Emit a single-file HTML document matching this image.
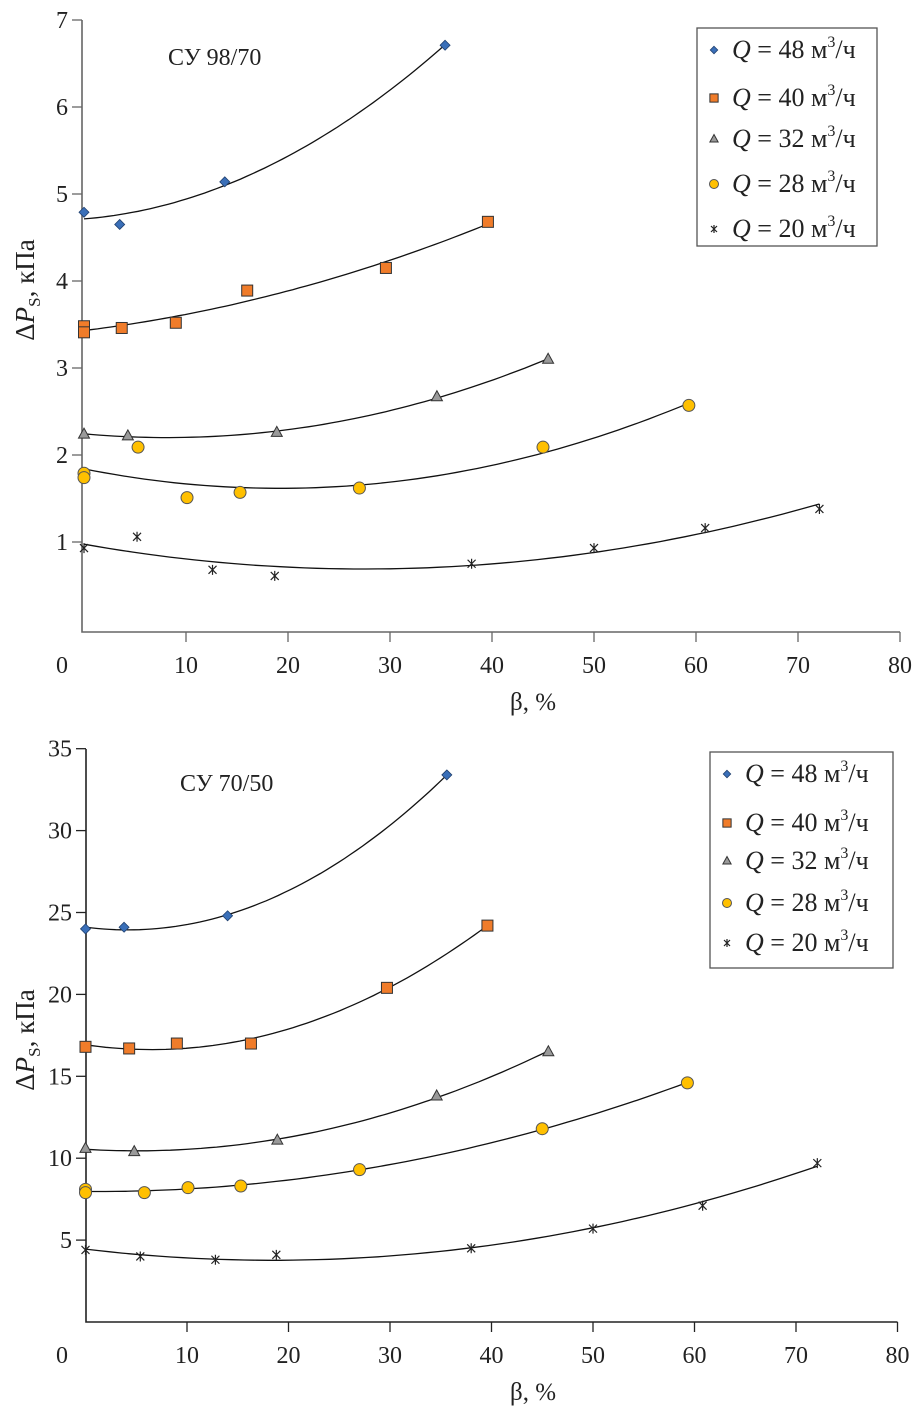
<!DOCTYPE html>
<html><head><meta charset="utf-8"><style>
body{margin:0;background:#fff;}
svg{display:block;font-family:"Liberation Serif",serif;}
</style></head><body>
<svg id="svg" width="918" height="1407"></svg>
<script>
const seriesLabels=["48","40","32","28","20"];
const xTicks=[0,10,20,30,40,50,60,70,80];
const topYTicks=[1,2,3,4,5,6,7];
const botYTicks=[5,10,15,20,25,30,35];
// Top chart (СУ 98/70)
const topQ48x=[0,3.5,13.8,35.4], topQ48y=[4.79,4.65,5.14,6.71];
const topQ40x=[0,0,3.7,9,16,29.6,39.6], topQ40y=[3.48,3.41,3.46,3.52,3.89,4.15,4.68];
const topQ32x=[0,4.3,18.9,34.6,45.5], topQ32y=[2.24,2.22,2.26,2.67,3.1];
const topQ28x=[0,0,5.3,10.1,15.3,27,45,59.3], topQ28y=[1.79,1.74,2.09,1.51,1.57,1.62,2.09,2.57];
const topQ20x=[0,5.2,12.6,18.7,38,50,60.9,72.1], topQ20y=[0.93,1.06,0.68,0.61,0.75,0.93,1.16,1.38];
// Bottom chart (СУ 70/50)
const botQ48x=[0,3.8,14,35.6], botQ48y=[24.0,24.1,24.8,33.4];
const botQ40x=[0,4.3,9,16.3,29.7,39.6], botQ40y=[16.8,16.7,17.0,17.0,20.4,24.2];
const botQ32x=[0,4.8,18.9,34.6,45.6], botQ32y=[10.6,10.4,11.1,13.8,16.5];
const botQ28x=[0,0,5.8,10.1,15.3,27,45,59.3], botQ28y=[8.1,7.9,7.9,8.2,8.3,9.3,11.8,14.6];
const botQ20x=[0,5.4,12.8,18.8,38,50,60.8,72.1], botQ20y=[4.4,4.0,3.8,4.1,4.5,5.7,7.1,9.7];

const NS="http://www.w3.org/2000/svg";
const svg=document.getElementById('svg');
function mk(tag,attrs,parent){const e=document.createElementNS(NS,tag);for(const k in attrs)e.setAttribute(k,attrs[k]);(parent||svg).appendChild(e);return e;}
function fit(xs,ys){
 let n=xs.length,s=[0,0,0,0,0],t=[0,0,0];
 for(let i=0;i<n;i++){let p=1;for(let k=0;k<5;k++){s[k]+=p;if(k<3)t[k]+=p*ys[i];p*=xs[i];}}
 let A=[[s[0],s[1],s[2],t[0]],[s[1],s[2],s[3],t[1]],[s[2],s[3],s[4],t[2]]];
 for(let i=0;i<3;i++){for(let j=i+1;j<3;j++){let f=A[j][i]/A[i][i];for(let k=i;k<4;k++)A[j][k]-=f*A[i][k];}}
 let c=[0,0,0];for(let i=2;i>=0;i--){let v=A[i][3];for(let k=i+1;k<3;k++)v-=A[i][k]*c[k];c[i]=v/A[i][i];}
 return c;
}
const fills=["#3a6fb8","#f07c2a","#9a9a9a","#ffc000","none"];
function marker(g,k,px,py,sc){
 sc=sc||1;let e;
 if(k===0)e=mk('polygon',{points:`${px},${py-5*sc} ${px+5*sc},${py} ${px},${py+5*sc} ${px-5*sc},${py}`,fill:fills[0],stroke:'#1f3f6e','stroke-width':0.8},g);
 else if(k===1)e=mk('rect',{x:px-5.5*sc,y:py-5.5*sc,width:11*sc,height:11*sc,fill:fills[1],stroke:'#333','stroke-width':1},g);
 else if(k===2)e=mk('polygon',{points:`${px},${py-6*sc} ${px+5.5*sc},${py+4*sc} ${px-5.5*sc},${py+4*sc}`,fill:fills[2],stroke:'#333','stroke-width':1},g);
 else if(k===3)e=mk('circle',{cx:px,cy:py,r:6*sc,fill:fills[3],stroke:'#555','stroke-width':1},g);
 else{const a=4*sc;e=mk('path',{d:`M${px-a},${py-a}L${px+a},${py+a}M${px+a},${py-a}L${px-a},${py+a}M${px},${py-a-1}L${px},${py+a+1}`,stroke:'#222','stroke-width':1.2,fill:'none'},g);}
 
 
}
function chart(cfg){
 const g=mk('g',{});
 
 
 const X=v=>cfg.x0+cfg.xs*v, Y=v=>cfg.y0-cfg.ys*v;
 const ax=mk('path',{d:`M${cfg.axX},${cfg.top}L${cfg.axX},${cfg.bot}L${X(80)},${cfg.bot}`,stroke:cfg.axColor,'stroke-width':1.6,fill:'none'},g);
 
 
 xTicks.forEach(v=>{
  if(v>0){const t=mk('line',{x1:X(v),x2:X(v),y1:cfg.bot,y2:cfg.bot+10,stroke:cfg.axColor,'stroke-width':1.3},g);
  
  }
  const tx=mk('text',{x:v===0?62:X(v),y:cfg.bot+41,'font-size':24,'text-anchor':'middle',fill:'#222'},g);tx.textContent=v;
  
  
 });
 cfg.yTicks.forEach(v=>{
  const t=mk('line',{x1:cfg.axX-10,x2:cfg.axX,y1:Y(v),y2:Y(v),stroke:cfg.axColor,'stroke-width':1.3},g);
  
  
  const tx=mk('text',{x:cfg.axX-14,y:Y(v)+8,'font-size':24,'text-anchor':'end',fill:'#222'},g);tx.textContent=v;
  
  
 });
 const xl=mk('text',{x:533,y:cfg.bot+78,'font-size':25,'text-anchor':'middle',fill:'#222'},g);xl.textContent='β, %';
 
 
 const yl=mk('text',{transform:`translate(34,${cfg.ylY}) rotate(-90)`,'font-size':27,'text-anchor':'middle',fill:'#222'},g);
 yl.innerHTML='Δ<tspan font-style="italic">P</tspan><tspan font-size="17" dy="6">S</tspan><tspan dy="-6">, кПа</tspan>';
 
 
 const ti=mk('text',{x:cfg.titleX,y:cfg.titleY,'font-size':24,fill:'#222'},g);ti.textContent=cfg.title;
 
 
 cfg.series.forEach((s,k)=>{
  const c=fit(s[0],s[1]);let mn=Math.min(...s[0]),mx=Math.max(...s[0]);let d='';
  for(let i=0;i<=60;i++){const v=mn+(mx-mn)*i/60;d+=(i?'L':'M')+X(v).toFixed(1)+','+Y(c[0]+c[1]*v+c[2]*v*v).toFixed(1);}
  const ln=mk('path',{d,stroke:'#111','stroke-width':1.3,fill:'none'},g);
  
  
  s[0].forEach((xv,i)=>marker(g,k,X(xv),Y(s[1][i])));
 });
 const lg=mk('g',{},g);
 
 
 const L=cfg.leg;
 mk('rect',{x:L.x,y:L.y,width:L.w,height:L.h,fill:'#fff',stroke:'#555','stroke-width':1.3},lg);
 L.rows.forEach((ry,k)=>{
  marker(lg,k,L.x+17,ry-8,0.75);
  const t=mk('text',{x:L.x+35,y:ry,'font-size':26,fill:'#222'},lg);
  t.innerHTML='<tspan font-style="italic">Q</tspan> = '+seriesLabels[k]+' м<tspan font-size="16" dy="-11">3</tspan><tspan dy="11">/ч</tspan>';
  
  
 });
}
chart({name:'chart-su-98-70',x0:84,xs:10.2,y0:629,ys:87,axX:82,top:20,bot:632,axColor:'#666',yTicks:topYTicks,ylY:290,
 title:'СУ 98/70',titleX:168,titleY:65,
 series:[[topQ48x,topQ48y],[topQ40x,topQ40y],[topQ32x,topQ32y],[topQ28x,topQ28y],[topQ20x,topQ20y]],
 leg:{x:697,y:28,w:180,h:218,rows:[58,106,147,192,237]}});
chart({name:'chart-su-70-50',x0:85.5,xs:10.15,y0:1322,ys:16.38,axX:86,top:749,bot:1322,axColor:'#222',yTicks:botYTicks,ylY:1040,
 title:'СУ 70/50',titleX:180,titleY:791,
 series:[[botQ48x,botQ48y],[botQ40x,botQ40y],[botQ32x,botQ32y],[botQ28x,botQ28y],[botQ20x,botQ20y]],
 leg:{x:710,y:752,w:183,h:216,rows:[782,831,869,911,951]}});
</script>
</body></html>
